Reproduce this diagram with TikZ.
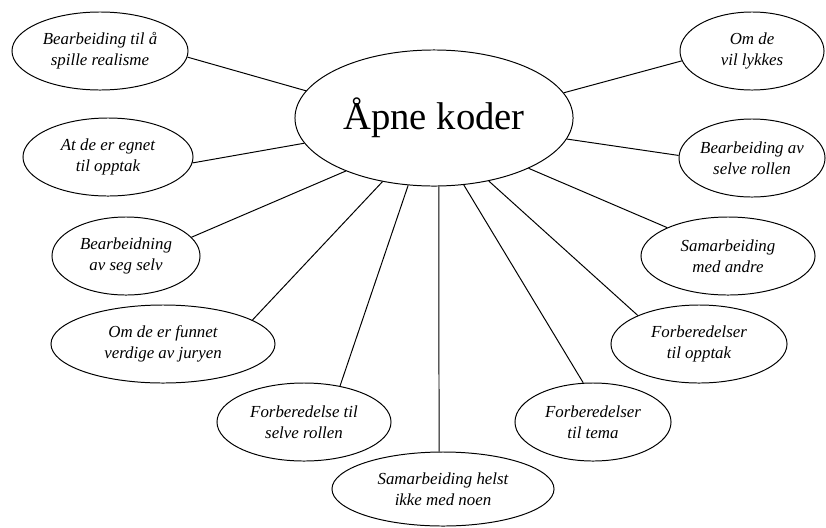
\documentclass[tikz,border=0pt]{standalone}
\usepackage{fontspec}
\setmainfont{Liberation Serif}
\usetikzlibrary{shapes.geometric}

\begin{document}
\begin{tikzpicture}[x=0.025cm,y=-0.025cm,
  every node/.style={font=\fontsize{12}{15}\selectfont\itshape},
  code/.style={draw,ellipse,line width=0.7pt,inner xsep=-6pt,inner ysep=0pt,minimum height=1.95cm,align=center},
  hub/.style={draw,ellipse,line width=0.7pt,inner sep=0pt,minimum width=6.95cm,minimum height=3.40cm,font=\fontsize{27.5}{30}\selectfont},
  link/.style={line width=0.7pt}]

\useasboundingbox (0,0) rectangle (826,527);

% central node
\node[hub] (hub) at (434,118) {Åpne koder};

% codes on the left
\node[code,minimum width=4.40cm] (realisme) at (100,51) {Bearbeiding til å\\spille realisme};
\node[code,minimum width=4.25cm] (egnet) at (108,157) {At de er egnet\\til opptak};
\node[code,minimum width=3.70cm] (segselv) at (126,256) {Bearbeidning\\av seg selv};
\node[code,minimum width=5.60cm] (juryen) at (163,344) {Om de er funnet\\verdige av juryen};
\node[code,minimum width=4.35cm] (rollenA) at (304,422) {Forberedelse til\\selve rollen};

% code at the bottom
\node[code,minimum width=5.55cm,minimum height=1.85cm] (noen) at (443,489) {Samarbeiding helst\\ikke med noen};

% codes on the right
\node[code,minimum width=3.90cm] (tema) at (593,422) {Forberedelser\\til tema};
\node[code,minimum width=4.40cm] (opptak) at (699,344) {Forberedelser\\til opptak};
\node[code,minimum width=4.35cm] (andre) at (728,256) {Samarbeiding\\med andre};
\node[code,minimum width=3.65cm] (rollenB) at (752,158) {Bearbeiding av\\selve rollen};
\node[code,minimum width=3.60cm] (lykkes) at (752,51) {Om de\\vil lykkes};

% links to the hub
\foreach \nd/\from/\to in {realisme/356/168, egnet/356/191, segselv/16/211,
  juryen/15/231, rollenA/45/249, noen/96/274, tema/104/294, opptak/155/311,
  andre/155/332, rollenB/178/351, lykkes/188/11}{
  \draw[link] (\nd.\from) -- (hub.\to);
}

\end{tikzpicture}
\end{document}
